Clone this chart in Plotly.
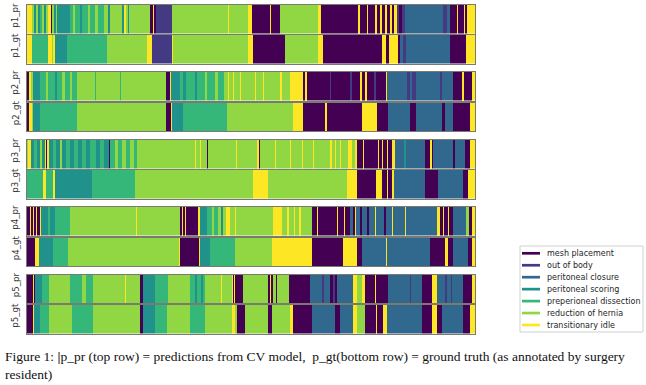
import plotly.graph_objects as go

W, H = 646, 385

# ---- classes ----
CLASSES = ["mesh placement", "out of body", "peritoneal closure", "peritoneal scoring",
           "preperioneal dissection", "reduction of hernia", "transitionary idle"]
CODES = ["M", "O", "C", "S", "D", "R", "I"]
COLORS = ["#440154", "#443983", "#31688e", "#21918c", "#35b779", "#90d743", "#fde725"]

# ---- segments: (class code, segment end time) ----
p1_pr = [("I",5),("R",7),("S",9),("R",11),("S",13),("D",15),("R",17),("S",19),("R",21),("I",24),
         ("M",25),("R",27),("S",29),("R",30),("S",43),("D",46),("R",48),("D",53),("S",55),("D",61),
         ("R",63),("D",68),("R",71),("D",77),("R",81),("S",83),("R",95),("S",97),("I",99),("R",101),
         ("S",102),("R",123),("M",126),("I",127),("M",129),("O",145),("R",201),("I",202),("R",221),
         ("I",225),("M",243),("I",244),("M",253),("R",291),("I",294),("M",331),("I",333),("M",340),
         ("I",341),("M",348),("I",350),("M",353),("I",355),("M",358),("I",360),("M",363),("I",365),
         ("M",367),("I",370),("O",372),("M",375),("O",378),("C",416),("O",420),("C",423),("M",430),
         ("I",431),("M",437),("I",438),("M",440),("I",448)]
p1_gt = [("I",5),("D",21),("I",25),("R",26),("I",28),("S",40),("D",80),("R",120),("I",125),("O",145),
         ("I",146),("R",221),("I",226),("M",258),("R",291),("I",296),("M",355),("I",359),("M",362),
         ("I",371),("M",373),("C",376),("O",379),("C",423),("M",439),("I",448)]
p2_pr = [("M",2),("I",4),("R",6),("S",13),("D",19),("R",21),("D",28),("S",30),("D",35),("R",38),
         ("D",43),("R",45),("D",50),("R",68),("D",69),("R",93),("D",94),("R",139),("M",143),("I",144),
         ("S",153),("D",156),("S",159),("D",168),("S",170),("D",178),("R",180),("D",188),("R",191),
         ("D",197),("R",201),("I",202),("R",206),("I",207),("R",213),("I",214),("R",228),("I",229),
         ("R",236),("I",237),("R",253),("I",255),("R",263),("I",276),("M",278),("I",280),("M",303),
         ("O",304),("M",323),("O",325),("M",333),("I",335),("M",338),("I",340),("M",347),("O",349),
         ("M",359),("I",360),("C",380),("O",383),("C",385),("O",389),("C",413),("O",415),("C",426),
         ("M",435),("I",437),("M",445),("I",448)]
p2_gt = [("M",2),("I",5),("R",6),("S",13),("D",50),("R",139),("M",144),("I",145),("S",156),("D",200),
         ("R",266),("I",276),("M",298),("I",300),("M",335),("I",350),("M",361),("C",383),("M",389),
         ("C",415),("M",418),("C",426),("M",443),("I",448)]
p3_pr = [("R",1),("I",4),("S",7),("D",10),("S",13),("R",15),("S",18),("I",19),("M",20),("I",22),
         ("S",26),("D",29),("S",33),("R",35),("S",39),("D",43),("S",47),("D",51),("S",55),("D",59),
         ("S",63),("D",69),("S",73),("D",77),("S",82),("M",83),("D",88),("R",91),("D",95),("R",99),
         ("D",103),("R",107),("D",110),("R",168),("I",169),("R",173),("I",174),("R",180),("M",181),
         ("R",209),("I",210),("R",230),("I",232),("M",233),("R",248),("I",249),("R",263),("I",264),
         ("R",275),("I",276),("R",286),("I",287),("R",303),("I",305),("R",308),("I",309),("R",313),
         ("I",314),("R",321),("I",325),("R",328),("I",330),("M",336),("I",337),("M",351),("I",352),
         ("M",355),("I",356),("M",360),("I",361),("M",365),("I",368),("C",377),("S",379),("C",398),
         ("M",403),("I",405),("M",406),("C",426),("M",428),("C",438),("M",443),("I",448)]
p3_gt = [("D",16),("I",19),("D",26),("I",28),("S",65),("D",108),("R",226),("I",241),("R",320),("I",330),
         ("M",349),("I",355),("M",360),("I",361),("M",365),("I",367),("C",398),("M",411),("C",436),
         ("M",441),("I",448)]
p4_pr = [("M",3),("I",4),("M",6),("I",7),("M",9),("I",10),("M",13),("I",14),("S",21),("D",23),
         ("S",28),("D",43),("R",109),("I",110),("R",153),("M",155),("I",156),("M",158),("I",159),
         ("M",171),("I",173),("S",180),("D",185),("R",187),("D",191),("R",194),("S",196),("R",199),
         ("I",203),("R",208),("I",209),("R",246),("I",255),("R",260),("I",262),("R",267),("I",268),
         ("R",272),("I",274),("R",285),("M",290),("I",291),("M",310),("I",311),("M",317),("I",318),
         ("M",323),("C",326),("M",328),("I",329),("C",333),("M",335),("C",340),("M",342),("C",348),
         ("I",349),("C",357),("M",359),("C",365),("I",366),("C",378),("I",379),("C",410),("I",413),
         ("M",416),("I",417),("M",421),("I",422),("M",426),("C",439),("R",442),("M",445),("I",448)]
p4_gt = [("M",8),("I",12),("S",26),("D",41),("R",152),("I",153),("M",172),("I",173),("S",183),("D",208),
         ("R",245),("I",285),("M",316),("I",330),("M",335),("C",359),("I",360),("C",403),("M",418),
         ("I",421),("M",426),("C",441),("M",445),("I",448)]
p5_pr = [("M",6),("I",7),("M",8),("S",15),("D",22),("R",43),("D",55),("R",59),("D",66),("R",98),
         ("I",99),("R",113),("M",116),("S",128),("D",141),("R",163),("D",168),("S",170),("D",174),
         ("S",176),("D",178),("R",194),("I",195),("R",205),("I",206),("M",207),("I",208),("M",216),
         ("R",241),("M",243),("I",244),("M",246),("R",249),("M",250),("R",262),("M",283),("C",295),
         ("O",297),("C",303),("M",306),("O",308),("M",310),("C",326),("I",330),("R",335),("I",338),
         ("M",348),("I",349),("M",361),("C",383),("O",384),("C",395),("M",405),("I",410),("C",418),
         ("O",420),("C",424),("O",425),("C",436),("M",445),("I",448)]
p5_gt = [("M",6),("I",7),("S",13),("D",22),("R",45),("D",66),("R",113),("M",116),("S",128),("D",140),
         ("R",163),("D",178),("R",205),("I",208),("R",210),("M",218),("R",241),("M",245),("R",263),
         ("I",266),("M",285),("C",308),("M",313),("C",326),("I",330),("R",338),("M",349),("I",350),
         ("M",356),("I",360),("C",395),("M",405),("I",410),("M",415),("C",436),("M",443),("I",448)]

STRIP_NAMES = ["p1_pr", "p1_gt", "p2_pr", "p2_gt", "p3_pr", "p3_gt", "p4_pr", "p4_gt", "p5_pr", "p5_gt"]
STRIPS = [p1_pr, p1_gt, p2_pr, p2_gt, p3_pr, p3_gt, p4_pr, p4_gt, p5_pr, p5_gt]
TOTAL = 448

CAPTION_1 = "Figure 1: <b>|</b>p_pr (top row) = predictions from CV model,  p_gt(bottom row) = ground truth (as annotated by surgery"
CAPTION_2 = "resident)"

# ---- layout geometry (pixels) ----
X0, X1 = 27, 475
TOPS = [5, 35, 72, 102.5, 140, 170, 207, 237.5, 274.5, 305]
STRIP_H = 28.5

n = len(COLORS)
cs = []
for i, c in enumerate(COLORS):
    cs.append([i / n, c])
    cs.append([(i + 1) / n, c])

fig = go.Figure()
lay = {}
ann = []
for k, (name, segs) in enumerate(zip(STRIP_NAMES, STRIPS)):
    ends = [e for _, e in segs]
    assert all(b > a for a, b in zip([0] + ends, ends)), name
    z = [[CODES.index(c) for c, _ in segs]]
    edges = [0] + ends
    sfx = "" if k == 0 else str(k + 1)
    fig.add_trace(go.Heatmap(z=z, x=edges, y=[0, 1], xaxis="x" + sfx, yaxis="y" + sfx,
                             colorscale=cs, zmin=-0.5, zmax=n - 0.5, showscale=False,
                             hoverinfo="skip"))
    top = TOPS[k]
    bot = top + STRIP_H
    common = dict(showticklabels=False, ticks="", showgrid=False, zeroline=False,
                  showline=True, mirror=True, linecolor="#7a7a72", linewidth=1, fixedrange=True)
    lay["xaxis" + sfx] = dict(domain=[X0 / W, X1 / W], range=[0, TOTAL], anchor="y" + sfx, **common)
    lay["yaxis" + sfx] = dict(domain=[1 - bot / H, 1 - top / H], range=[0, 1], anchor="x" + sfx, **common)
    ann.append(dict(x=15.5 / W, y=1 - (top + STRIP_H / 2 - 4) / H, xref="paper", yref="paper",
                    text=name, textangle=-90, showarrow=False, xanchor="center", yanchor="middle",
                    font=dict(family="DejaVu Sans", size=8.6, color="#333333")))

# ---- legend (matplotlib-style box) ----
shapes = [dict(type="rect", xref="paper", yref="paper", x0=520 / W, x1=643 / W,
               y0=1 - 332 / H, y1=1 - 246 / H, line=dict(color="#d0d0d0", width=1),
               fillcolor="rgba(255,255,255,0.9)")]
for i, (lab, col) in enumerate(zip(CLASSES, COLORS)):
    yc = 253.3 + i * 11.95
    shapes.append(dict(type="line", xref="paper", yref="paper", x0=522 / W, x1=540 / W,
                       y0=1 - yc / H, y1=1 - yc / H, line=dict(color=col, width=2.7)))
    ann.append(dict(x=545 / W, y=1 - yc / H, xref="paper", yref="paper", text=lab,
                    showarrow=False, xanchor="left", yanchor="middle",
                    font=dict(family="DejaVu Sans", size=8, color="#262626")))

# ---- caption ----
ann.append(dict(x=3 / W, y=1 - 356 / H, xref="paper", yref="paper", text=CAPTION_1,
                showarrow=False, xanchor="left", yanchor="middle",
                font=dict(family="Liberation Serif", size=13.5, color="#111111")))
ann.append(dict(x=3 / W, y=1 - 374 / H, xref="paper", yref="paper", text=CAPTION_2,
                showarrow=False, xanchor="left", yanchor="middle",
                font=dict(family="Liberation Serif", size=13.5, color="#111111")))

fig.update_layout(width=W, height=H, margin=dict(l=0, r=0, t=0, b=0),
                  paper_bgcolor="white", plot_bgcolor="white", showlegend=False,
                  annotations=ann, shapes=shapes, **lay)
fig.write_html("out.html", config={"displayModeBar": False},
               post_script="document.body.style.margin='0px';")
